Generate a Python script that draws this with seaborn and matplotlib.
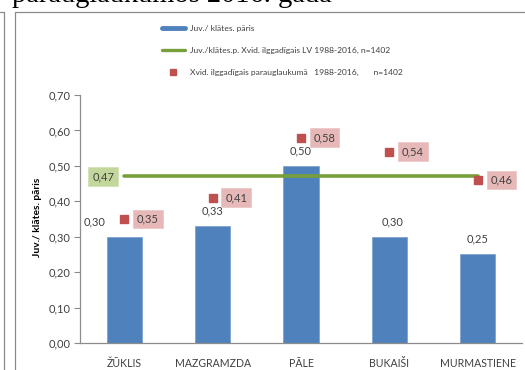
import matplotlib
matplotlib.use("Agg")
import matplotlib.pyplot as plt
from matplotlib.lines import Line2D
import numpy as np
import pandas as pd
import seaborn as sns

# Data
categories = ["ŽŪKLIS", "MAZGRAMZDA", "PĀLE", "BUKAIŠI", "MURMASTIENE"]
pairs = [0.30, 0.33, 0.50, 0.30, 0.25]           # Juv./ klātes. pāris
plot_longterm = [0.35, 0.41, 0.58, 0.54, 0.46]   # Xvid. ilggadīgais parauglaukumā
lv_longterm = 0.47                                # Xvid. ilggadīgais LV
y_ticks = [0.0, 0.1, 0.2, 0.3, 0.4, 0.5, 0.6, 0.7]

legend_labels = [
    "Juv./ klātes. pāris",
    "Juv./klātes.p. Xvid. ilggadīgais LV 1988-2016, n=1402",
    "Xvid. ilggadīgais parauglaukumā   1988-2016,       n=1402",
]
heading = "parauglaukumos 2016. gadā"

BLUE = "#4f81bd"
GREEN = "#77a03a"
RED = "#c0504d"
PINK = "#e6b9b8"
LGREEN = "#c3d69b"
TXT = "#404040"

sns.set_theme(style="white")
plt.rcParams["font.family"] = ["Lato", "DejaVu Sans"]

W, H = 525, 370
fig = plt.figure(figsize=(W / 100, H / 100), dpi=100)

def fx(px):
    return px / W

def fy(py):
    return 1 - py / H

# Document heading running off the top edge of the page
fig.text(fx(12), fy(2), heading, family="Liberation Serif", fontsize=20.5,
         ha="left", va="baseline", color="black")

# Page frame lines
fig.add_artist(Line2D([fx(4), fx(4)], [fy(12), 0], color="#8a8a8a", lw=0.9))
fig.add_artist(Line2D([0, fx(4)], [fy(12), fy(12)], color="#8a8a8a", lw=0.9))
fig.add_artist(Line2D([fx(15), fx(15)], [fy(12), 0], color="#8a8a8a", lw=0.9))
fig.add_artist(Line2D([fx(15), 1], [fy(12), fy(12)], color="#8a8a8a", lw=0.9))

ax = fig.add_axes([fx(80), fy(343), fx(522) - fx(80), fy(95) - fy(343)])

df = pd.DataFrame({"kategorija": categories, "pari": pairs})
sns.barplot(data=df, x="kategorija", y="pari", color=BLUE, width=0.4,
            saturation=1, ax=ax, edgecolor="#7fa3d1", linewidth=0.6)

xs = np.arange(len(categories))
ax.plot(xs, [lv_longterm] * len(xs), color=GREEN, lw=2.6, zorder=3)
ax.plot(xs, plot_longterm, ls="none", marker="s", ms=5.2, color=RED,
        zorder=4)

ax.set_xlim(-0.5, len(categories) - 0.5)
ax.set_ylim(0, 0.70)
ax.set_yticks(y_ticks)
ax.set_yticklabels([f"{v:.2f}".replace(".", ",") for v in y_ticks],
                   fontsize=8, color=TXT)
ax.set_xticks(xs)
ax.set_xticklabels(categories, fontsize=7.6, color=TXT)
ax.set_xticks(np.arange(-0.5, len(categories)), minor=True)
ax.tick_params(axis="x", which="major", length=0, pad=11)
ax.tick_params(axis="x", which="minor", length=4, width=0.8, color="#8c8c8c",
               direction="out")
ax.tick_params(axis="y", length=4, width=0.8, color="#8c8c8c",
               direction="out", pad=3, left=True)
ax.set_xlabel("")
ax.set_ylabel("")
for side in ("top", "right"):
    ax.spines[side].set_visible(False)
for side in ("left", "bottom"):
    ax.spines[side].set_color("#8c8c8c")
    ax.spines[side].set_linewidth(0.9)

fig.text(fx(38), fy(217), "Juv./ klātes. pāris", rotation=90, ha="center",
         va="center", fontsize=7.4, fontweight="bold", color="black")

# Bar value labels
bar_offsets = [-21, 0, 0, 2, 0]
for i, v in enumerate(pairs):
    ax.annotate(f"{v:.2f}".replace(".", ","), (i, v),
                xytext=(bar_offsets[i], 11), textcoords="offset points",
                ha="center", va="center", fontsize=8, color=TXT)

# Long-term plot values in pink boxes
for i, v in enumerate(plot_longterm):
    ax.annotate(f"{v:.2f}".replace(".", ","), (i, v),
                xytext=(17, 0), textcoords="offset points",
                ha="center", va="center", fontsize=8, color=TXT,
                bbox=dict(boxstyle="square,pad=0.35", fc=PINK, ec="#ecc9c8",
                          lw=0.6))

# Country long-term value in green box
ax.annotate(f"{lv_longterm:.2f}".replace(".", ","), (0, lv_longterm),
            xytext=(-15, 0), textcoords="offset points",
            ha="center", va="center", fontsize=8, color=TXT,
            bbox=dict(boxstyle="square,pad=0.35", fc=LGREEN, ec="#d3e2b5",
                      lw=0.6))

# Legend
handles = [
    Line2D([], [], color=BLUE, lw=3.5),
    Line2D([], [], color=GREEN, lw=2.4),
    Line2D([], [], ls="none", marker="s", ms=4, color=RED),
]
fig.legend(handles, legend_labels, loc="upper left",
           bbox_to_anchor=(fx(154), fy(17)), frameon=False, fontsize=6.1,
           handlelength=2.8, handletextpad=0.5, labelspacing=1.8,
           labelcolor=TXT)

fig.savefig("out.png", dpi=100)
